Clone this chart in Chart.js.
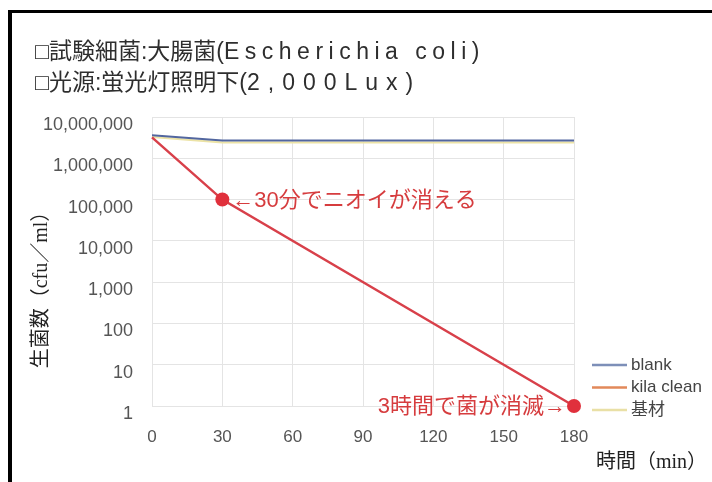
<!DOCTYPE html>
<html lang="ja">
<head>
<meta charset="utf-8">
<title>生菌数の推移</title>
<script src="https://cdn.jsdelivr.net/npm/chart.js@4/dist/chart.umd.min.js"></script>
<style>
	html, body { margin: 0; padding: 0; background: #fff; }
	#wrap { position: relative; width: 712px; height: 482px; overflow: hidden; }
	#frame {
		position: absolute; left: 8px; top: 10px; right: 0; bottom: 0;
		border-top: 3px solid #000; border-left: 4px solid #000;
	}
	#grafico { position: absolute; left: 0; top: 0; }
	#titulo {
		position: absolute; left: 35px; top: 36px;
		font: 23px/31px "Liberation Sans", "Noto Sans CJK JP", sans-serif;
		color: #2e2e2e; white-space: nowrap;
	}
	#titulo .en { letter-spacing: 5.5px; }
	#titulo .num { letter-spacing: 8px; }
</style>
</head>
<body>
<div id="wrap">
	<div id="frame"></div>
	<canvas id="grafico" width="712" height="482"></canvas>
	<div id="titulo">
		<div>□試験細菌:大腸菌(<span class="en">Escherichia coli</span>)</div>
		<div>□光源:蛍光灯照明下(<span class="num">2,000Lux</span>)</div>
	</div>
</div>
<script>
// 経過時間(分)
var minutos = [0, 30, 180];
// 生菌数 (cfu/ml)
var blank = [3600000, 2700000, 2700000];
var kilaClean = [3200000, 100000, 1];
var kizai = [3300000, 2400000, 2400000];

var xTicks = [0, 30, 60, 90, 120, 150, 180];
var yTicks = [1, 10, 100, 1000, 10000, 100000, 1000000, 10000000];

var notaMeio = '←30分でニオイが消える';
var notaFim = '3時間で菌が消滅→';
var tituloY = '生菌数（cfu／ml）';
var tituloX = '時間（min）';

// 凡例の線の色
var corLegenda = ['#7d8fb8', '#e2895a', '#e9e0a6'];

var SANS = '"Liberation Sans", "Noto Sans CJK JP", sans-serif';
var SERIF = '"Liberation Serif", "Noto Sans CJK JP", serif';

function pontos(valores) {
	return minutos.map(function(m, i) {
		return { x: m, y: valores[i] };
	});
}

// 注記・軸タイトル・凡例を描く
var notas = {
	id: 'notas',
	afterDatasetsDraw: function(chart) {
		var ctx = chart.ctx;
		var meta = chart.getDatasetMeta(1);
		var p30 = meta.data[1];
		var p180 = meta.data[2];
		ctx.save();
		ctx.fillStyle = '#d63c3e';
		ctx.font = '22px ' + SANS;
		ctx.textBaseline = 'middle';
		ctx.textAlign = 'left';
		ctx.fillText(notaMeio, p30.x + 10, p30.y + 1);
		ctx.textAlign = 'right';
		ctx.fillText(notaFim, p180.x - 8, p180.y + 1);

		// 凡例
		ctx.font = '17px ' + SANS;
		ctx.textAlign = 'left';
		chart.data.datasets.forEach(function(ds, i) {
			var y = 365 + i * 22.5;
			ctx.strokeStyle = corLegenda[i];
			ctx.lineWidth = 2.5;
			ctx.beginPath();
			ctx.moveTo(592, y);
			ctx.lineTo(627, y);
			ctx.stroke();
			ctx.fillStyle = '#444';
			ctx.fillText(ds.label, 631, y);
		});

		ctx.fillStyle = '#222';
		ctx.font = '20px ' + SERIF;
		ctx.textAlign = 'right';
		ctx.fillText(tituloX, 707, 463);

		ctx.translate(42, 285);
		ctx.rotate(-Math.PI / 2);
		ctx.textAlign = 'center';
		ctx.fillText(tituloY, 0, 0);
		ctx.restore();
	}
};

var grafico = new Chart(document.getElementById('grafico'), {
	type: 'line',
	data: {
		datasets: [{
			label: 'blank',
			data: pontos(blank),
			borderColor: '#52669f',
			borderWidth: 2,
			pointRadius: 0,
			order: 1
		}, {
			label: 'kila clean',
			data: pontos(kilaClean),
			borderColor: '#d8404a',
			pointBackgroundColor: '#e0303c',
			pointBorderWidth: 0,
			borderWidth: 2.5,
			pointRadius: [0, 7, 7],
			clip: false,
			order: 0
		}, {
			label: '基材',
			data: pontos(kizai),
			borderColor: '#ece3a6',
			borderWidth: 2,
			pointRadius: 0,
			order: 2
		}]
	},
	options: {
		responsive: false,
		animation: false,
		layout: { padding: { left: 33, top: 117, right: 138, bottom: 0 } },
		plugins: {
			legend: { display: false },
			tooltip: { enabled: false }
		},
		scales: {
			x: {
				type: 'linear',
				min: 0,
				max: 180,
				afterBuildTicks: function(scale) {
					scale.ticks = xTicks.map(function(v) { return { value: v }; });
				},
				afterFit: function(scale) { scale.height = 76; },
				grid: { color: '#e4e4e4', drawTicks: false },
				border: { display: false },
				ticks: { color: '#555', font: { family: SANS, size: 17 }, padding: 21, maxRotation: 0 }
			},
			y: {
				type: 'logarithmic',
				min: 1,
				max: 10000000,
				afterBuildTicks: function(scale) {
					scale.ticks = yTicks.map(function(v) { return { value: v }; });
				},
				afterFit: function(scale) { scale.width = 119; },
				grid: { color: '#e4e4e4', drawTicks: false },
				border: { display: false },
				ticks: {
					color: '#555',
					font: { family: SANS, size: 18 },
					padding: 19,
					labelOffset: 8,
					callback: function(v) { return Number(v).toLocaleString('en-US'); }
				}
			}
		}
	},
	plugins: [notas]
});
</script>
</body>
</html>
